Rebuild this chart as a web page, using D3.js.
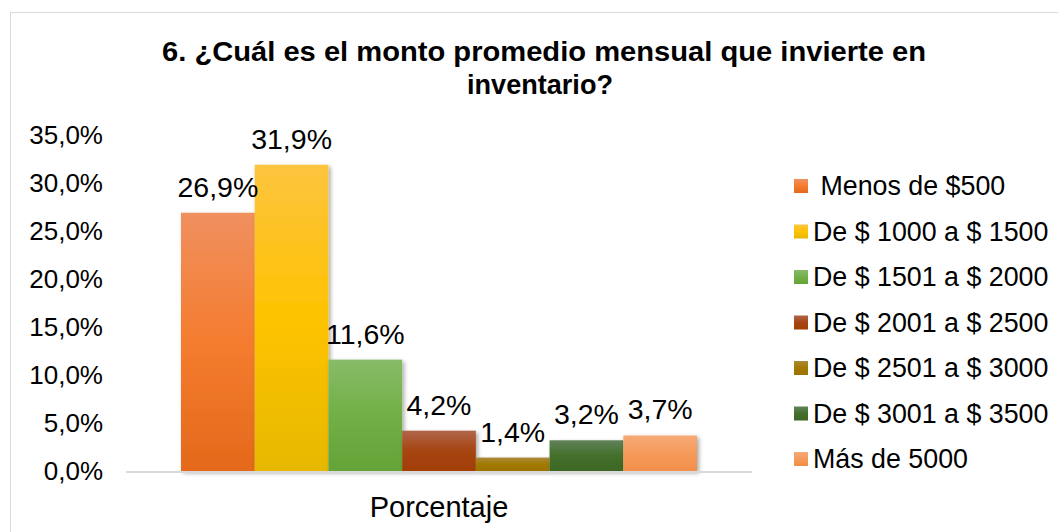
<!DOCTYPE html>
<html>
<head>
<meta charset="utf-8">
<script src="https://cdn.jsdelivr.net/npm/d3@7"></script>
<style>
  body { margin:0; background:#fff; }
  svg { font-family: "Liberation Sans", Arial, sans-serif; }
  .legend text { font-size:26.8px; fill:#000; }
  .datalabel { font-size:28.5px; fill:#000; }
  .catlabel { font-size:29px; fill:#000; }
</style>
</head>
<body>
<svg id="chart" width="1058" height="532"></svg>
<script>
// Data
var categories = ["Porcentaje"];
var series = [" Menos de $500", "De $ 1000 a $ 1500", "De $ 1501 a $ 2000", "De $ 2001 a $ 2500",
              "De $ 2501 a $ 3000", "De $ 3001 a $ 3500", "Más de 5000"];
var values = [0.269, 0.319, 0.116, 0.042, 0.014, 0.032, 0.037];
var yTicks = [0, 0.05, 0.10, 0.15, 0.20, 0.25, 0.30, 0.35];

// colours: top / middle / bottom of each bar gradient
var grads = [
  ["#f0905f", "#f47c2f", "#e4691b"],
  ["#fdc43f", "#fec300", "#e6b800"],
  ["#88bb68", "#71b046", "#64a337"],
  ["#b0654a", "#a64512", "#a13f04"],
  ["#a98a3a", "#a27a00", "#9b7300"],
  ["#60825a", "#44702c", "#3b6624"],
  ["#f6a978", "#f59a5b", "#f28f4a"]
];

var svg = d3.select("#chart");
var plot = { left:126, right:752, top:135, bottom:471 };

var locale = d3.formatLocale({ decimal:",", thousands:".", grouping:[3], currency:["$",""] });
var fmt = locale.format(".1%");

var defs = svg.append("defs");
grads.forEach(function(g, i) {
  var lg = defs.append("linearGradient")
               .attr("id", "grad" + i)
               .attr("x1", 0).attr("y1", 0).attr("x2", 0).attr("y2", 1);
  lg.append("stop").attr("offset", "0%").attr("stop-color", g[0]);
  lg.append("stop").attr("offset", "50%").attr("stop-color", g[1]);
  lg.append("stop").attr("offset", "100%").attr("stop-color", g[2]);
});
var shadow = defs.append("filter").attr("id", "shadow")
                 .attr("x", "-20%").attr("y", "-20%").attr("width", "150%").attr("height", "150%");
shadow.append("feDropShadow").attr("dx", 2).attr("dy", 2).attr("stdDeviation", 2)
      .attr("flood-color", "#000").attr("flood-opacity", 0.35);

// chart border
svg.append("rect")
   .attr("x", 10.5).attr("y", 12.5)
   .attr("width", 1060).attr("height", 540)
   .attr("fill", "none").attr("stroke", "#d9d9d9");

// Title
var title = svg.append("text")
               .attr("text-anchor", "middle")
               .style("font-weight", "bold")
               .style("font-size", "28px");
title.append("tspan").attr("x", 544).attr("y", 61)
     .attr("textLength", 764).attr("lengthAdjust", "spacingAndGlyphs")
     .text("6. ¿Cuál es el monto promedio mensual que invierte en");
title.append("tspan").attr("x", 540).attr("y", 94)
     .attr("textLength", 146).attr("lengthAdjust", "spacingAndGlyphs")
     .text("inventario?");

// Scales
var x0 = d3.scaleBand().domain(categories).range([plot.left, plot.right]).paddingOuter(0.1066).paddingInner(0);
var x1 = d3.scaleBand().domain(series).range([0, x0.bandwidth()]);
var y = d3.scaleLinear().domain([0, 0.35]).range([plot.bottom, plot.top]);

// Y axis (labels only)
var yAxis = svg.append("g")
               .attr("transform", "translate(" + plot.left + ",0)")
               .call(d3.axisLeft(y).tickValues(yTicks).tickFormat(function(d) { return locale.format(".1%")(d); }).tickSize(0).tickPadding(23));
yAxis.select(".domain").remove();
yAxis.selectAll("text").style("font-family", "Liberation Sans, Arial, sans-serif").style("font-size", "26px").attr("fill", "#000");

// Bars
var groups = svg.selectAll("g.cat")
                .data(categories)
                .enter()
                .append("g")
                .attr("class", "cat")
                .attr("transform", function(d) { return "translate(" + x0(d) + ",0)"; });

groups.selectAll("rect")
      .data(values.map(function(v, i) { return { name:series[i], value:v, i:i }; }))
      .enter()
      .append("rect")
      .attr("x", function(d) { return x1(d.name); })
      .attr("y", function(d) { return y(d.value); })
      .attr("width", x1.bandwidth())
      .attr("height", function(d) { return y(0) - y(d.value); })
      .attr("fill", function(d) { return "url(#grad" + d.i + ")"; })
      .attr("filter", "url(#shadow)");

// X axis line
svg.append("line")
   .attr("x1", plot.left).attr("x2", plot.right)
   .attr("y1", y(0) + 1).attr("y2", y(0) + 1)
   .attr("stroke", "#d9d9d9").attr("stroke-width", 2);

// Data labels
groups.selectAll("text.datalabel")
      .data(values.map(function(v, i) { return { name:series[i], value:v }; }))
      .enter()
      .append("text")
      .attr("class", "datalabel")
      .attr("text-anchor", "middle")
      .attr("x", function(d) { return x1(d.name) + x1.bandwidth()/2; })
      .attr("y", function(d) { return y(d.value) - 16; })
      .text(function(d) { return fmt(d.value); });

// Category label
svg.selectAll("text.catlabel")
   .data(categories)
   .enter()
   .append("text")
   .attr("class", "catlabel")
   .attr("text-anchor", "middle")
   .attr("x", function(d) { return x0(d) + x0.bandwidth()/2; })
   .attr("y", 517)
   .text(function(d) { return d; });

// Legend
var legend = svg.append("g").attr("class", "legend")
                .attr("transform", "translate(794,186)");
var item = legend.selectAll("g")
                 .data(series)
                 .enter()
                 .append("g")
                 .attr("transform", function(d, i) { return "translate(0," + (i * 45.5) + ")"; });
item.append("rect")
    .attr("x", 0).attr("y", -7)
    .attr("width", 14).attr("height", 14)
    .attr("fill", function(d, i) { return "url(#grad" + i + ")"; });
item.append("text")
    .attr("x", 19).attr("y", 0)
    .attr("dy", "0.35em")
    .style("white-space", "pre")
    .attr("xml:space", "preserve")
    .text(function(d) { return d; });
</script>
</body>
</html>
